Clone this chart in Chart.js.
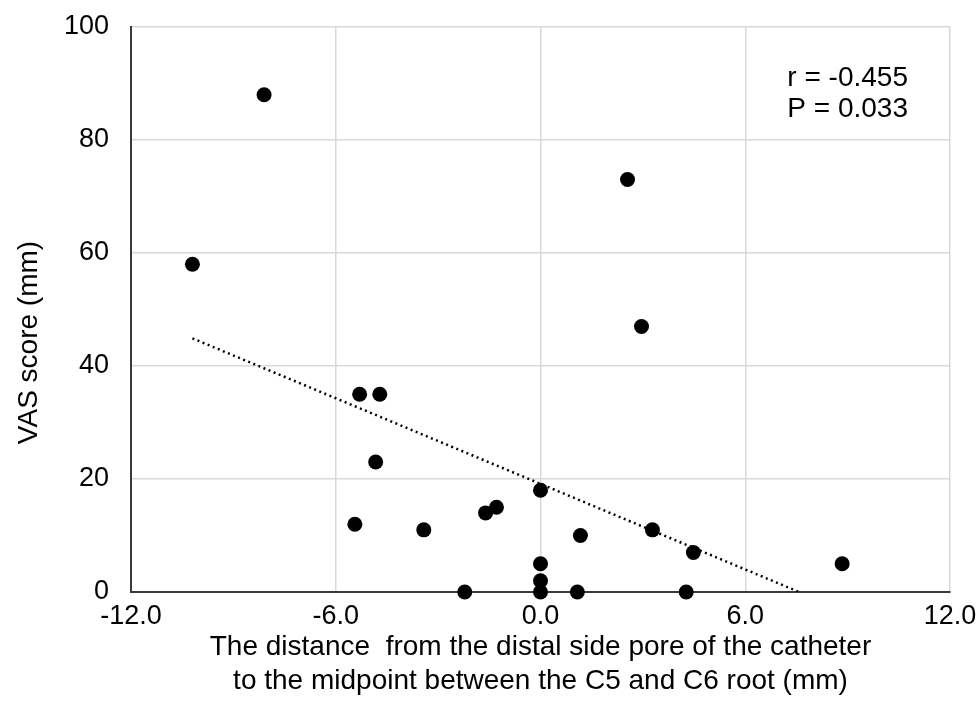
<!DOCTYPE html>
<html>
<head>
<meta charset="utf-8">
<script src="https://cdn.jsdelivr.net/npm/chart.js@4.4.1/dist/chart.umd.min.js"></script>
<style>
  html, body { margin: 0; padding: 0; background: #ffffff; }
  #wrap { width: 976px; height: 720px; }
</style>
</head>
<body>
<div id="wrap"><canvas id="c" width="976" height="720"></canvas></div>
<script>
// Scatter data
const distance = [-10.2, -8.1, 2.55, 2.96, -5.30, -4.71, -4.83, -5.44, -3.42, -1.61, -1.29, 0.0, 1.17, 3.28, 4.48, 8.84, 0.0, 0.0, 0.0, -2.22, 1.08, 4.27];
const vasScore = [58, 88, 73, 47, 35, 35, 23, 12, 11, 14, 15, 18, 10, 11, 7, 5, 5, 2, 0, 0, 0, 0];
// Trend line endpoints
const trendX = [-10.2, 7.58];
const trendY = [44.9, 0];
// Axis ticks
const xTicks = [-12, -6, 0, 6, 12];
const yTicks = [0, 20, 40, 60, 80, 100];
const statLines = ['r = -0.455', 'P = 0.033'];
const xTitle = ['The distance  from the distal side pore of the catheter', 'to the midpoint between the C5 and C6 root (mm)'];
const yTitle = 'VAS score (mm)';

const FONT = "'Liberation Sans', Arial, Helvetica, sans-serif";

const points = distance.map((x, i) => ({ x: x, y: vasScore[i] }));
const trend = trendX.map((x, i) => ({ x: x, y: trendY[i] }));

const extraText = {
  id: 'extraText',
  afterDraw(chart) {
    const ctx = chart.ctx;
    const area = chart.chartArea;
    ctx.save();
    ctx.fillStyle = '#000000';
    ctx.font = '28px ' + FONT;
    ctx.textBaseline = 'middle';
    const w = Math.max.apply(null, statLines.map(t => ctx.measureText(t).width));
    ctx.textAlign = 'left';
    statLines.forEach((t, i) => {
      ctx.fillText(t, area.right - 42 - w, area.top + 51 + i * 31);
    });
    // y axis title
    ctx.translate(29, (area.top + area.bottom) / 2 + 33);
    ctx.rotate(-Math.PI / 2);
    ctx.textAlign = 'center';
    ctx.fillText(yTitle, 0, 0);
    ctx.restore();
  }
};

new Chart(document.getElementById('c'), {
  type: 'scatter',
  data: {
    datasets: [
      {
        type: 'line',
        data: trend,
        borderColor: '#000000',
        borderWidth: 2.5,
        borderDash: [2, 3.5],
        pointRadius: 0,
        fill: false,
        order: 2
      },
      {
        data: points,
        backgroundColor: '#000000',
        borderColor: '#000000',
        pointRadius: 7.5,
        pointHoverRadius: 7.5,
        borderWidth: 0,
        clip: false,
        order: 1
      }
    ]
  },
  options: {
    responsive: false,
    animation: false,
    events: [],
    layout: { autoPadding: false, padding: { top: 27, right: 26, left: 0, bottom: 0 } },
    plugins: {
      legend: { display: false },
      tooltip: { enabled: false }
    },
    scales: {
      x: {
        type: 'linear',
        min: -12,
        max: 12,
        afterBuildTicks: (s) => { s.ticks = xTicks.map(v => ({ value: v })); },
        afterFit: (s) => { s.height = 128; s.paddingLeft = 0; s.paddingRight = 0; },
        grid: { color: '#d9d9d9', lineWidth: 1.5, drawTicks: false },
        border: { color: '#3a3a3a', width: 2 },
        ticks: {
          color: '#000000',
          font: { family: FONT, size: 27 },
          padding: 8,
          maxRotation: 0,
          callback: (v) => Number(v).toFixed(1)
        },
        title: {
          display: true,
          text: xTitle,
          color: '#000000',
          font: { family: FONT, size: 28, lineHeight: 1.2 },
          padding: { top: 0, bottom: 22 }
        }
      },
      y: {
        type: 'linear',
        min: 0,
        max: 100,
        afterBuildTicks: (s) => { s.ticks = yTicks.map(v => ({ value: v })); },
        afterFit: (s) => { s.width = 131; s.paddingTop = 0; s.paddingBottom = 0; },
        grid: { color: '#d9d9d9', lineWidth: 1.5, drawTicks: false },
        border: { color: '#3a3a3a', width: 2 },
        ticks: {
          color: '#000000',
          font: { family: FONT, size: 27 },
          padding: 22
        }
      }
    }
  },
  plugins: [extraText]
});
</script>
</body>
</html>
